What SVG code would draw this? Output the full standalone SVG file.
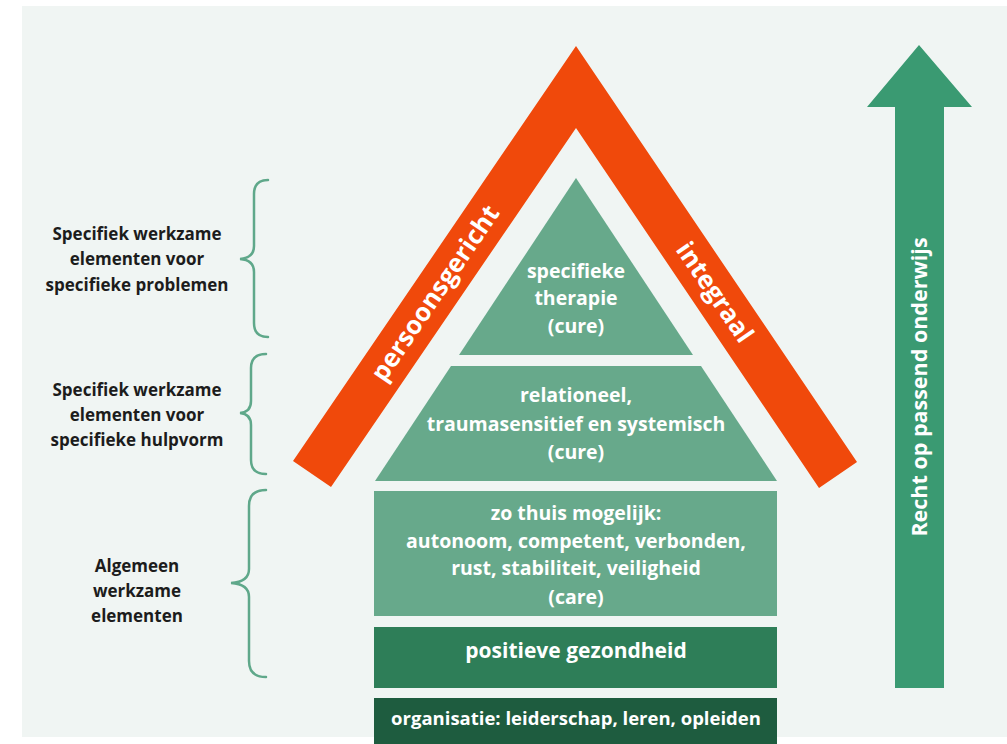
<svg xmlns="http://www.w3.org/2000/svg" width="1007" height="744" viewBox="0 0 1007 744">
<style>
.wt{font-family:"Open Sans","Noto Sans",sans-serif;font-weight:700;fill:#ffffff;text-anchor:middle}
.lb{font-family:"Open Sans","Noto Sans",sans-serif;font-weight:700;fill:#1c1c1c;text-anchor:middle;font-size:17px}
.br{fill:none;stroke:#5fa88a;stroke-width:2.5;stroke-linecap:round}
.pyr{fill:#67a98b}
</style>
<rect x="0" y="0" width="1007" height="744" fill="#ffffff"/>
<rect x="22" y="6" width="985" height="731" fill="#f0f5f3"/>

<g id="roof">
<polygon points="576,46 293,461 331,487 576,128 819,488 857,462" fill="#f0490b"/>
<text class="wt" font-size="25.5" transform="translate(435,293) rotate(-55.7)" x="0" y="9">persoonsgericht</text>
<text class="wt" font-size="25.5" transform="translate(715,292) rotate(55.7)" x="0" y="9">integraal</text>
</g>

<g id="top-triangle">
<polygon class="pyr" points="576,178 693,355 459,355"/>
<text class="wt" font-size="19.5" x="576" y="278">specifieke</text>
<text class="wt" font-size="19.5" x="576" y="305">therapie</text>
<text class="wt" font-size="19.5" x="576" y="333">(cure)</text>
</g>

<g id="middle-trapezoid">
<polygon class="pyr" points="451,366 701,366 777,481 375,481"/>
<text class="wt" font-size="19.5" x="576" y="402">relationeel,</text>
<text class="wt" font-size="19.5" x="576" y="431">traumasensitief en systemisch</text>
<text class="wt" font-size="19.5" x="576" y="459">(cure)</text>
</g>

<g id="care-box">
<rect class="pyr" x="374" y="491" width="403" height="125"/>
<text class="wt" font-size="19.5" x="576" y="520">zo thuis mogelijk:</text>
<text class="wt" font-size="19.5" x="576" y="548">autonoom, competent, verbonden,</text>
<text class="wt" font-size="19.5" x="576" y="575">rust, stabiliteit, veiligheid</text>
<text class="wt" font-size="19.5" x="576" y="604">(care)</text>
</g>

<g id="positieve-gezondheid">
<rect x="374" y="627" width="403" height="61" fill="#2e7e58"/>
<text class="wt" font-size="21" x="576" y="658">positieve gezondheid</text>
</g>

<g id="organisatie">
<rect x="374" y="698" width="403" height="46" fill="#1e5c3f"/>
<text class="wt" font-size="18.5" x="576" y="725">organisatie: leiderschap, leren, opleiden</text>
</g>

<g id="arrow">
<polygon points="919,45 972,107 944,107 944,688 895,688 895,107 867,107" fill="#3a9a72"/>
<text class="wt" font-size="21.5" transform="translate(919,387) rotate(-90)" x="0" y="7.5">Recht op passend onderwijs</text>
</g>

<g id="label-1">
<text class="lb" x="137" y="240">Specifiek werkzame</text>
<text class="lb" x="137" y="265">elementen voor</text>
<text class="lb" x="137" y="291">specifieke problemen</text>
</g>
<g id="label-2">
<text class="lb" x="137" y="396">Specifiek werkzame</text>
<text class="lb" x="137" y="421">elementen voor</text>
<text class="lb" x="137" y="446">specifieke hulpvorm</text>
</g>
<g id="label-3">
<text class="lb" x="137" y="572">Algemeen</text>
<text class="lb" x="137" y="597">werkzame</text>
<text class="lb" x="137" y="622">elementen</text>
</g>

<g id="connectors">
<path class="br" d="M268,180 Q254,180 254,194 L254,246 Q254,258 240,259 Q254,260 254,272 L254,323 Q254,337 268,337"/>
<path class="br" d="M266,354 Q251,354 251,368 L251,401 Q251,412 240,413 Q251,414 251,425 L251,460 Q251,474 266,474"/>
<path class="br" d="M266,490 Q249,490 249,506 L249,569 Q249,582 231,583 Q249,584 249,597 L249,661 Q249,677 266,677"/>
</g>
</svg>
